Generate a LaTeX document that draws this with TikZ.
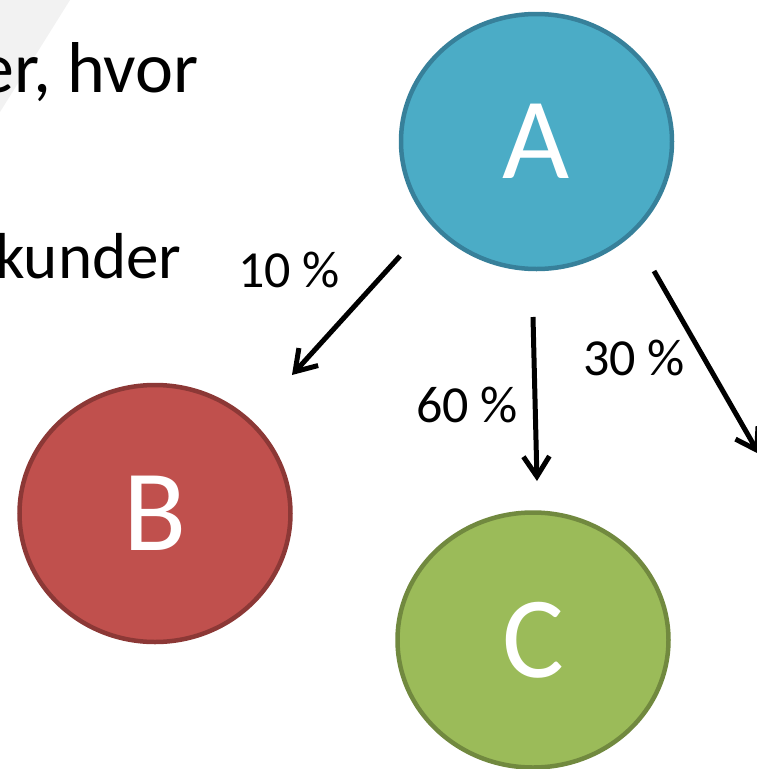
\documentclass[tikz,border=0pt]{standalone}
\usepackage{fontspec}
\setmainfont{Carlito}
\usetikzlibrary{shapes.geometric,arrows.meta}
\definecolor{aFill}{HTML}{4BACC6}
\definecolor{aLine}{HTML}{37809A}
\definecolor{bFill}{HTML}{C0504D}
\definecolor{bLine}{HTML}{8C3836}
\definecolor{cFill}{HTML}{9BBB59}
\definecolor{cLine}{HTML}{71893F}
\definecolor{bgGray}{HTML}{F2F2F2}
\tikzset{
  bubble/.style={ellipse, line width=4.5pt, inner sep=0pt, minimum width=271pt, minimum height=255pt,
    text=white, font=\fontsize{116}{116}\selectfont},
  flow/.style={line width=5pt, -{Straight Barb[length=20pt,width=26pt,line width=5pt]}},
  pct/.style={anchor=base west, inner sep=0pt, font=\fontsize{52}{52}\selectfont},
  body/.style={anchor=base west, inner sep=0pt},
}
\begin{document}
\begin{tikzpicture}[x=1pt,y=-1pt]
\useasboundingbox (0,0) rectangle (757,769);
\fill[bgGray] (0,0) -- (70,0) -- (0,112) -- cycle;
\node[body, font=\fontsize{72}{72}\selectfont] (t1) at (-22,92) {er, hvor};
\node[body, font=\fontsize{65}{65}\selectfont] (t2) at (-5,278) {kunder};
\node[bubble, fill=aFill, draw=aLine] (A) at (536.5,141.5) {A};
\node[bubble, fill=bFill, draw=bLine, minimum height=257pt] (B) at (155,513.5) {B};
\node[bubble, fill=cFill, draw=cLine] (C) at (533,640) {C};
\coordinate (s1) at (400,256);
\coordinate (e1) at (292,375);
\coordinate (s2) at (533,317);
\coordinate (e2) at (537,481);
\coordinate (s3) at (654,271);
\coordinate (e3) at (759,454);
\draw[flow] (s1) -- (e1);
\draw[flow] (s2) -- (e2);
\draw[flow] (s3) -- (e3);
\node[pct] (l1) at (238,287) {10 \%};
\node[pct] (l2) at (416,422) {60 \%};
\node[pct] (l3) at (583,375) {30 \%};
\end{tikzpicture}
\end{document}
